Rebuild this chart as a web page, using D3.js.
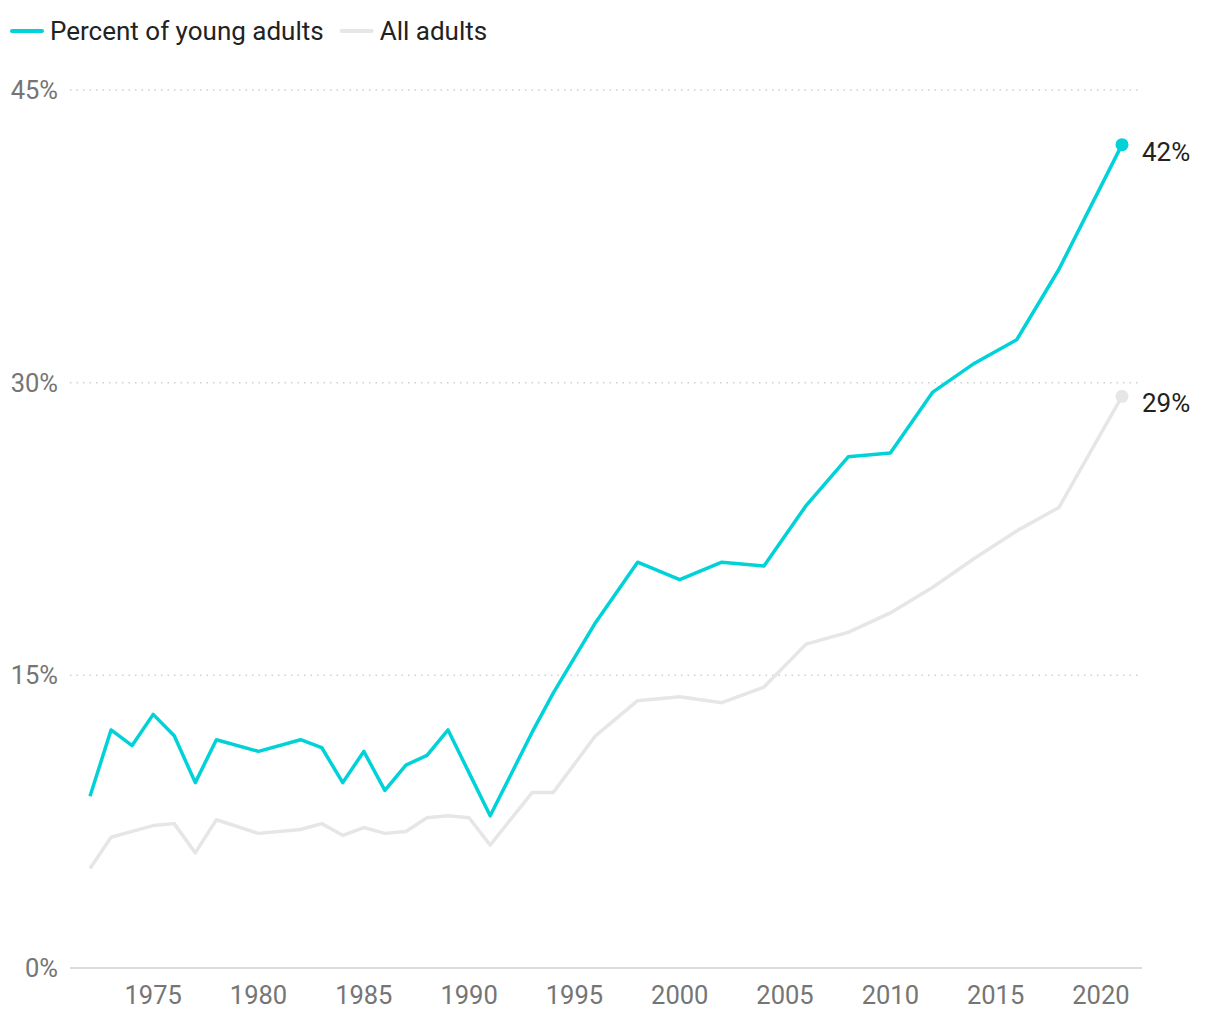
<!DOCTYPE html>
<html lang="en">
<head>
<meta charset="UTF-8">
<title>Young adults vs all adults</title>
<script src="https://d3js.org/d3.v7.min.js"></script>
<style>
    body { margin: 0; background: #fff; font-family: Roboto, 'Noto Sans', sans-serif; }
    svg { display: block; }
    .grid line { stroke: #cfcfcf; stroke-width: 1.5px; stroke-dasharray: 1.5 5; }
    .tick-label { fill: #757575; font-size: 25.5px; }
    .legend-text, .end-label { fill: #222; font-size: 26px; }
</style>
</head>
<body>
<svg id="chart" width="1220" height="1020"></svg>
<script>
// survey years
const years = [1972, 1973, 1974, 1975, 1976, 1977, 1978, 1980, 1982, 1983, 1984, 1985, 1986, 1987, 1988, 1989, 1990, 1991,
               1993, 1994, 1996, 1998, 2000, 2002, 2004, 2006, 2008, 2010, 2012, 2014, 2016, 2018, 2021];
// percent
const youngAdults = [8.8, 12.2, 11.4, 13.0, 11.9, 9.5, 11.7, 11.1, 11.7, 11.3, 9.5, 11.1, 9.1, 10.4, 10.9, 12.2, 10.0, 7.8,
                     12.1, 14.1, 17.7, 20.8, 19.9, 20.8, 20.6, 23.7, 26.2, 26.4, 29.5, 31.0, 32.2, 35.8, 42.2];
const allAdults = [5.1, 6.7, 7.0, 7.3, 7.4, 5.9, 7.6, 6.9, 7.1, 7.4, 6.8, 7.2, 6.9, 7.0, 7.7, 7.8, 7.7, 6.3,
                   9.0, 9.0, 11.9, 13.7, 13.9, 13.6, 14.4, 16.6, 17.2, 18.2, 19.5, 21.0, 22.4, 23.6, 29.3];
const seriesNames = ["Percent of young adults", "All adults"];
const seriesColors = ["#00d2d7", "#e6e6e6"];
const yTicks = [0, 15, 30, 45];
const xTicks = [1975, 1980, 1985, 1990, 1995, 2000, 2005, 2010, 2015, 2020];

const svg = d3.select("#chart");
const x = d3.scaleLinear().domain([1972, 2021]).range([90, 1122]);
const y = d3.scaleLinear().domain([0, 45]).range([968, 90]);
const left = 70, right = 1142;

// gridlines
const grid = svg.append("g").attr("class", "grid");
grid.selectAll("line").data(yTicks.filter(d => d > 0)).enter().append("line")
    .attr("x1", left).attr("x2", right)
    .attr("y1", d => y(d)).attr("y2", d => y(d));

// baseline
svg.append("line")
    .attr("x1", left).attr("x2", right)
    .attr("y1", y(0)).attr("y2", y(0))
    .attr("stroke", "#dcdcdc").attr("stroke-width", 2);

// y labels
svg.selectAll(".ylab").data(yTicks).enter().append("text")
    .attr("class", "tick-label")
    .attr("x", 58).attr("y", d => y(d))
    .attr("dy", "0.35em").attr("text-anchor", "end")
    .text(d => d + "%");

// x labels
svg.selectAll(".xlab").data(xTicks).enter().append("text")
    .attr("class", "tick-label")
    .attr("x", d => x(d)).attr("y", 995)
    .attr("dy", "0.35em").attr("text-anchor", "middle")
    .text(d => d);

const series = [allAdults, youngAdults];
const colors = [seriesColors[1], seriesColors[0]];
const line = d3.line().x((d, i) => x(years[i])).y(d => y(d));

series.forEach((vals, k) => {
    svg.append("path")
        .attr("d", line(vals))
        .attr("fill", "none")
        .attr("stroke", colors[k])
        .attr("stroke-width", 3.5)
        .attr("stroke-linejoin", "round");
    const last = vals.length - 1;
    svg.append("circle")
        .attr("cx", x(years[last])).attr("cy", y(vals[last]))
        .attr("r", 6.5).attr("fill", colors[k]);
    svg.append("text")
        .attr("class", "end-label")
        .attr("x", x(years[last]) + 20).attr("y", y(vals[last]) + 7)
        .attr("dy", "0.35em")
        .text(Math.round(vals[last]) + "%");
});

// legend
const legend = svg.append("g");
let lx = 12;
seriesNames.forEach((name, i) => {
    legend.append("line")
        .attr("x1", lx).attr("x2", lx + 30)
        .attr("y1", 31).attr("y2", 31)
        .attr("stroke", seriesColors[i]).attr("stroke-width", 4)
        .attr("stroke-linecap", "round");
    const t = legend.append("text")
        .attr("class", "legend-text")
        .attr("x", lx + 38).attr("y", 31)
        .attr("dy", "0.35em")
        .text(name);
    lx += 38 + t.node().getComputedTextLength() + 18;
});
</script>
</body>
</html>
